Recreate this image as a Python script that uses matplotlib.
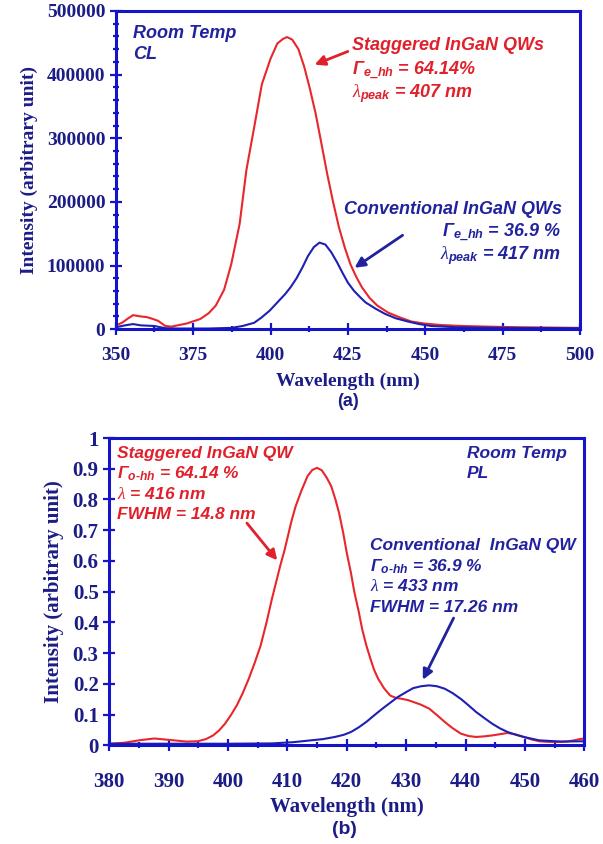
import matplotlib
matplotlib.use("Agg")
import matplotlib.pyplot as plt
from matplotlib.ticker import MultipleLocator, FuncFormatter

plt.rcParams["mathtext.fontset"] = "custom"
plt.rcParams["mathtext.rm"] = "Liberation Sans:bold:italic"
plt.rcParams["mathtext.it"] = "Liberation Serif:italic"
plt.rcParams["mathtext.bf"] = "Liberation Sans:bold:italic"

# (a) cathodoluminescence, room temperature
cl_stag_wl = [350, 352, 354, 355.6, 358, 360, 362, 363.7, 366, 368, 370, 373, 377.3, 380,
              382.3, 385, 387.3, 390, 392.2, 395, 397.2, 400, 402.2, 404, 405.3, 407, 409,
              410.9, 412.7, 414.6, 416.5, 418.3, 420.2, 422.1, 424, 425.8, 427.7, 429.5,
              432, 434.5, 438, 442, 445.5, 449.4, 455, 461.8, 470, 480, 490, 500]
cl_stag_int = [6000, 10000, 17000, 22000, 20000, 19000, 16000, 13000, 5000, 4000, 6000,
               9000, 16000, 25000, 37000, 62000, 102000, 165000, 250000, 325000, 385000,
               425000, 449000, 456000, 459000, 455000, 440000, 412000, 378000, 338000,
               290000, 244000, 200000, 160000, 128000, 102000, 82000, 66000, 49000, 37000,
               26000, 18000, 12000, 9000, 6500, 5000, 4000, 3000, 2500, 2000]

cl_conv_wl = [350, 353, 355.6, 358, 362.4, 366, 370, 380, 387.3, 391, 394.7, 397, 399.7,
              402, 404.7, 406.5, 408.4, 410.3, 412.1, 414, 415.8, 417.7, 419.6, 421.5,
              423.3, 425, 427, 429, 430.7, 434, 437, 440.5, 444.4, 448, 451.9, 460, 475, 500]
cl_conv_int = [3000, 6000, 8000, 6000, 5000, 1500, 1000, 1000, 2000, 5000, 10000, 18000,
               29000, 41000, 55000, 66000, 80000, 97000, 115000, 129000, 136000, 133000,
               121000, 105000, 88000, 73000, 60000, 50000, 42000, 32000, 24000, 17000,
               12000, 8000, 5000, 3000, 2000, 1500]

# (b) photoluminescence, room temperature (normalised)
pl_stag_wl = [380, 382.5, 385, 387.6, 390.9, 393, 394.9, 396.3, 397.5, 398.5, 399.5, 400.5,
              401.5, 402.5, 403.5, 404.5, 405.5, 406.5, 407.4, 408.1, 408.8, 409.5, 410.1,
              410.7, 411.4, 412.4, 413.4, 414.2, 415, 415.8, 416.6, 417.4, 418.1, 418.7,
              419.4, 420, 420.7, 421.3, 422, 422.6, 423.3, 424, 424.6, 425.3, 426.3, 427.3,
              428.3, 429.3, 430.3, 431.2, 432.5, 433.9, 435.2, 436.5, 437.8, 439.2, 440.5,
              441.8, 443.2, 444.5, 445.8, 447.1, 448.5, 449.8, 451.1, 452.4, 454, 455.7,
              457, 458.3, 459.2, 460]
pl_stag_int = [0.005, 0.008, 0.016, 0.022, 0.016, 0.012, 0.013, 0.020, 0.032, 0.048, 0.070,
               0.098, 0.130, 0.170, 0.216, 0.268, 0.324, 0.400, 0.476, 0.530, 0.584, 0.633,
               0.681, 0.730, 0.778, 0.830, 0.876, 0.896, 0.903, 0.895, 0.872, 0.843, 0.800,
               0.757, 0.692, 0.627, 0.562, 0.497, 0.437, 0.378, 0.325, 0.281, 0.246, 0.216,
               0.185, 0.162, 0.154, 0.151, 0.147, 0.141, 0.132, 0.119, 0.098, 0.076, 0.056,
               0.038, 0.030, 0.027, 0.029, 0.032, 0.036, 0.040, 0.035, 0.027, 0.019, 0.013,
               0.011, 0.011, 0.012, 0.016, 0.020, 0.022]

pl_conv_wl = [380, 390, 400, 407.4, 411, 414, 416, 418, 419.5, 420.7, 422, 423.3, 424.6,
              426, 427.3, 428.6, 430, 431.2, 432.5, 433.9, 435.2, 436.5, 437.8, 439.2,
              440.5, 441.8, 443.2, 444.5, 445.8, 447.1, 448.5, 449.8, 452.4, 456, 460]
pl_conv_int = [0.005, 0.005, 0.005, 0.006, 0.010, 0.016, 0.020, 0.027, 0.034, 0.043, 0.058,
               0.076, 0.097, 0.119, 0.138, 0.157, 0.173, 0.186, 0.192, 0.195, 0.192, 0.184,
               0.170, 0.151, 0.130, 0.108, 0.088, 0.070, 0.055, 0.043, 0.034, 0.027, 0.016,
               0.012, 0.013]

RED = "#e8262b"
BLUE = "#1f1fb4"
SPINE = "#1414c8"
NAVY = "#1c1c86"
TXT_RED = "#e0202a"
TXT_BLUE = "#22229e"

SERIF = "Liberation Serif"
SANS = "Liberation Sans"


def style_axes(ax, tick_size, label_size, xpad, xlabelpad):
    for s in ax.spines.values():
        s.set_color(SPINE)
        s.set_linewidth(2.2)
    ax.tick_params(which="both", direction="inout", colors=SPINE, width=1.6,
                   labelcolor=NAVY, labelsize=tick_size)
    ax.tick_params(which="major", length=8)
    ax.tick_params(which="minor", length=5)
    ax.tick_params(axis="x", pad=xpad)
    for lab in ax.get_xticklabels() + ax.get_yticklabels():
        lab.set_fontfamily(SERIF)
        lab.set_fontweight("bold")
    ax.set_xlabel("Wavelength (nm)", family=SERIF, weight="bold", color=NAVY,
                  fontsize=label_size, labelpad=xlabelpad)
    ax.set_ylabel("Intensity (arbitrary unit)", family=SERIF, weight="bold", color=NAVY,
                  fontsize=label_size, labelpad=6)


def note(ax, x, y, s, color, ha="left", size=13):
    ax.text(x, y, s, color=color, ha=ha, va="center", family=SANS, weight="bold",
            style="italic", fontsize=size)


fig = plt.figure(figsize=(6.03, 8.44), dpi=100)

# ---------- (a) ----------
ax1 = fig.add_axes([0.192, 0.610, 0.770, 0.377])
ax1.plot(cl_stag_wl, cl_stag_int, color=RED, lw=1.5)
ax1.plot(cl_conv_wl, cl_conv_int, color=BLUE, lw=1.5)
ax1.set_xlim(350, 500)
ax1.set_ylim(0, 500000)
ax1.xaxis.set_major_locator(MultipleLocator(25))
ax1.xaxis.set_minor_locator(MultipleLocator(12.5))
ax1.yaxis.set_major_locator(MultipleLocator(100000))
ax1.yaxis.set_minor_locator(MultipleLocator(20000))
ax1.yaxis.set_major_formatter(FuncFormatter(lambda v, p: "%d" % v))
style_axes(ax1, 14, 14, 9, 6)

note(ax1, 355.6, 464000, "Room Temp", TXT_BLUE)
note(ax1, 355.6, 431000, "CL", TXT_BLUE)
note(ax1, 426.4, 445000, "Staggered InGaN QWs", TXT_RED)
note(ax1, 426.4, 407000, r"$\Gamma_{\mathrm{e\_hh}}$ = 64.14%", TXT_RED)
note(ax1, 426.4, 370000, r"$\lambda_{\mathrm{peak}}$ = 407 nm", TXT_RED)
note(ax1, 494.0, 188000, "Conventional InGaN QWs", TXT_BLUE, ha="right")
note(ax1, 494.0, 152000, r"$\Gamma_{\mathrm{e\_hh}}$ = 36.9 %", TXT_BLUE, ha="right")
note(ax1, 494.0, 115000, r"$\lambda_{\mathrm{peak}}$ = 417 nm", TXT_BLUE, ha="right")
ax1.annotate("", xy=(413.4, 414000), xytext=(425.8, 438000),
             arrowprops=dict(arrowstyle="-|>", color=TXT_RED, lw=2,
                             mutation_scale=15))
ax1.annotate("", xy=(426.4, 94000), xytext=(443.4, 150000),
             arrowprops=dict(arrowstyle="-|>", color=TXT_BLUE, lw=2,
                             mutation_scale=15))
fig.text(0.577, 1 - 402 / 844, "(a)", ha="center", va="center", family=SANS,
         weight="bold", color=NAVY, fontsize=13)

# ---------- (b) ----------
ax2 = fig.add_axes([0.181, 0.117, 0.788, 0.364])
ax2.plot(pl_stag_wl, pl_stag_int, color=RED, lw=1.5)
ax2.plot(pl_conv_wl, pl_conv_int, color=BLUE, lw=1.5)
ax2.set_xlim(380, 460)
ax2.set_ylim(0, 1)
ax2.xaxis.set_major_locator(MultipleLocator(10))
ax2.xaxis.set_minor_locator(MultipleLocator(5))
ax2.yaxis.set_major_locator(MultipleLocator(0.1))
ax2.yaxis.set_major_formatter(FuncFormatter(lambda v, p: "%g" % round(v, 1)))
style_axes(ax2, 15, 15, 15, 4)

B = 12.5
note(ax2, 381.3, 0.951, "Staggered InGaN QW", TXT_RED, size=B)
note(ax2, 381.3, 0.884, r"$\Gamma_{\mathrm{o\text{-}hh}}$ = 64.14 %", TXT_RED, size=B)
note(ax2, 381.3, 0.819, r"$\lambda$ = 416 nm", TXT_RED, size=B)
note(ax2, 381.3, 0.751, "FWHM = 14.8 nm", TXT_RED, size=B)
note(ax2, 440.2, 0.951, "Room Temp", TXT_BLUE, size=B)
note(ax2, 440.2, 0.886, "PL", TXT_BLUE, size=B)
note(ax2, 424.0, 0.649, "Conventional  InGaN QW", TXT_BLUE, size=B)
note(ax2, 424.0, 0.582, r"$\Gamma_{\mathrm{o\text{-}hh}}$ = 36.9 %", TXT_BLUE, size=B)
note(ax2, 424.0, 0.517, r"$\lambda$ = 433 nm", TXT_BLUE, size=B)
note(ax2, 424.0, 0.449, "FWHM = 17.26 nm", TXT_BLUE, size=B)
ax2.annotate("", xy=(408.6, 0.595), xytext=(402.9, 0.730),
             arrowprops=dict(arrowstyle="-|>", color=TXT_RED, lw=2,
                             mutation_scale=15))
ax2.annotate("", xy=(432.6, 0.205), xytext=(438.2, 0.422),
             arrowprops=dict(arrowstyle="-|>", color=TXT_BLUE, lw=2,
                             mutation_scale=15))
fig.text(0.572, 1 - 830 / 844, "(b)", ha="center", va="center", family=SANS,
         weight="bold", color=NAVY, fontsize=14)

fig.savefig("out.png", dpi=100)
plt.close(fig)
